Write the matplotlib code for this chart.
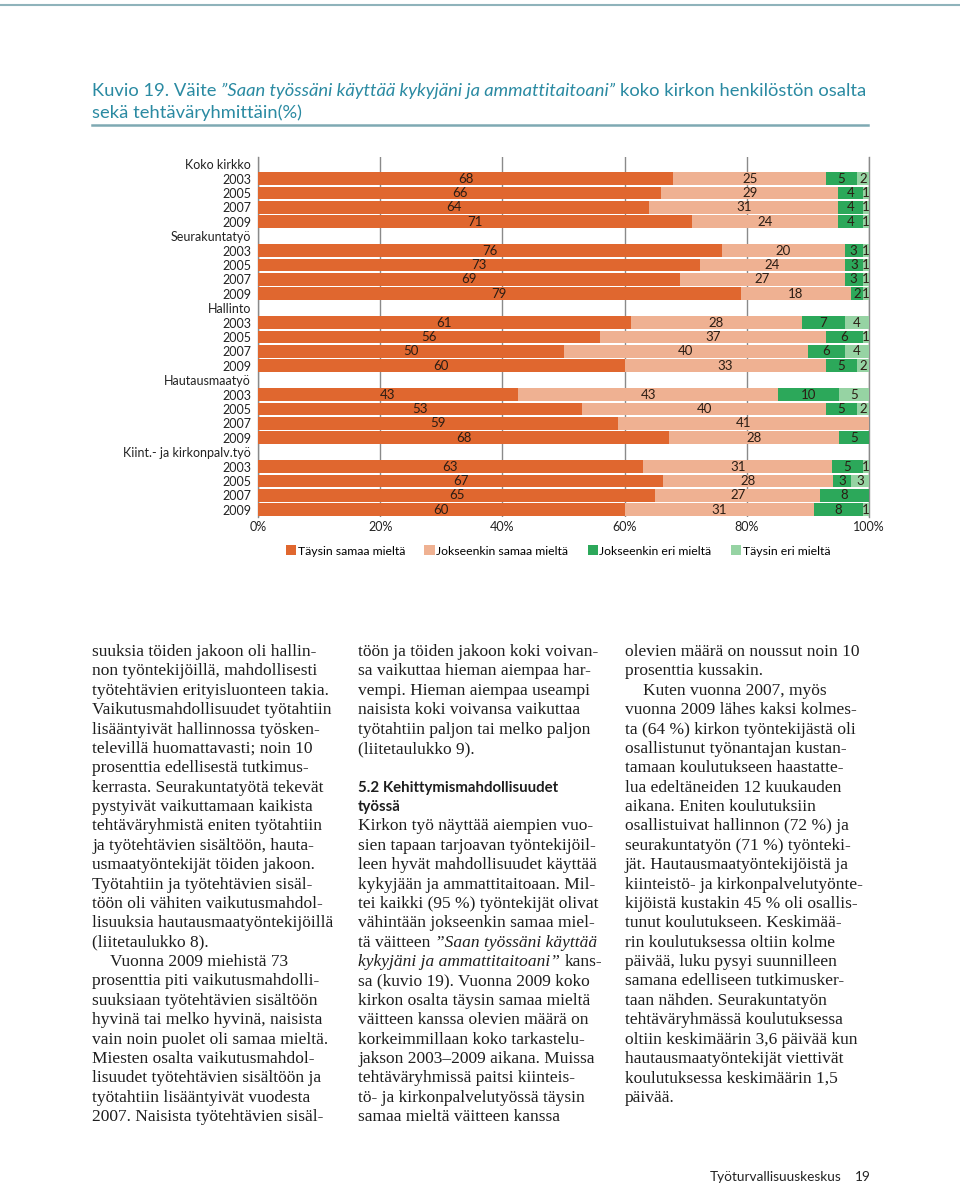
import matplotlib
matplotlib.use("Agg")
import matplotlib.pyplot as plt
from matplotlib.lines import Line2D

W, H = 960, 1186

groups = ["Koko kirkko", "Seurakuntatyö", "Hallinto", "Hautausmaatyö", "Kiint.- ja kirkonpalv.työ"]
years = ["2003", "2005", "2007", "2009"]
series = ["Täysin samaa mieltä", "Jokseenkin samaa mieltä", "Jokseenkin eri mieltä", "Täysin eri mieltä"]
colors = ["#e0672f", "#efb192", "#2ca85a", "#96d3a3"]

# values per row, group by group, years 2003-2009
taysin_samaa = [68, 66, 64, 71, 76, 73, 69, 79, 61, 56, 50, 60, 43, 53, 59, 68, 63, 67, 65, 60]
jokseenkin_samaa = [25, 29, 31, 24, 20, 24, 27, 18, 28, 37, 40, 33, 43, 40, 41, 28, 31, 28, 27, 31]
jokseenkin_eri = [5, 4, 4, 4, 3, 3, 3, 2, 7, 6, 6, 5, 10, 5, 0, 5, 5, 3, 8, 8]
taysin_eri = [2, 1, 1, 1, 1, 1, 1, 1, 4, 1, 4, 2, 5, 2, 0, 0, 1, 3, 0, 1]

title_runs = [("Kuvio 19. Väite", "normal"),
              ("\u201dSaan työssäni käyttää kykyjäni ja ammattitaitoani\u201d", "italic"),
              ("koko kirkon henkilöstön osalta", "normal")]
title_line2 = "sekä tehtäväryhmittäin(%)"

col1 = [
    "suuksia töiden jakoon oli hallin-",
    "non työntekijöillä, mahdollisesti",
    "työtehtävien erityisluonteen takia.",
    "Vaikutusmahdollisuudet työtahtiin",
    "lisääntyivät hallinnossa työsken-",
    "televillä huomattavasti; noin 10",
    "prosenttia edellisestä tutkimus-",
    "kerrasta. Seurakuntatyötä tekevät",
    "pystyivät vaikuttamaan kaikista",
    "tehtäväryhmistä eniten työtahtiin",
    "ja työtehtävien sisältöön, hauta-",
    "usmaatyöntekijät töiden jakoon.",
    "Työtahtiin ja työtehtävien sisäl-",
    "töön oli vähiten vaikutusmahdol-",
    "lisuuksia hautausmaatyöntekijöillä",
    "(liitetaulukko 8).",
    ">Vuonna 2009 miehistä 73",
    "prosenttia piti vaikutusmahdolli-",
    "suuksiaan työtehtävien sisältöön",
    "hyvinä tai melko hyvinä, naisista",
    "vain noin puolet oli samaa mieltä.",
    "Miesten osalta vaikutusmahdol-",
    "lisuudet työtehtävien sisältöön ja",
    "työtahtiin lisääntyivät vuodesta",
    "2007. Naisista työtehtävien sisäl-",
]
col2 = [
    "töön ja töiden jakoon koki voivan-",
    "sa vaikuttaa hieman aiempaa har-",
    "vempi. Hieman aiempaa useampi",
    "naisista koki voivansa vaikuttaa",
    "työtahtiin paljon tai melko paljon",
    "(liitetaulukko 9).",
    "",
    "#5.2 Kehittymismahdollisuudet",
    "#työssä",
    "Kirkon työ näyttää aiempien vuo-",
    "sien tapaan tarjoavan työntekijöil-",
    "leen hyvät mahdollisuudet käyttää",
    "kykyjään ja ammattitaitoaan. Mil-",
    "tei kaikki (95 %) työntekijät olivat",
    "vähintään jokseenkin samaa miel-",
    [("tä väitteen", "normal"), ("\u201dSaan työssäni käyttää", "italic")],
    [("kykyjäni ja ammattitaitoani\u201d", "italic"), ("kans-", "normal")],
    "sa (kuvio 19). Vuonna 2009 koko",
    "kirkon osalta täysin samaa mieltä",
    "väitteen kanssa olevien määrä on",
    "korkeimmillaan koko tarkastelu-",
    "jakson 2003\u20132009 aikana. Muissa",
    "tehtäväryhmissä paitsi kiinteis-",
    "tö- ja kirkonpalvelutyössä täysin",
    "samaa mieltä väitteen kanssa",
]
col3 = [
    "olevien määrä on noussut noin 10",
    "prosenttia kussakin.",
    ">Kuten vuonna 2007, myös",
    "vuonna 2009 lähes kaksi kolmes-",
    "ta (64 %) kirkon työntekijästä oli",
    "osallistunut työnantajan kustan-",
    "tamaan koulutukseen haastatte-",
    "lua edeltäneiden 12 kuukauden",
    "aikana. Eniten koulutuksiin",
    "osallistuivat hallinnon (72 %) ja",
    "seurakuntatyön (71 %) työnteki-",
    "jät. Hautausmaatyöntekijöistä ja",
    "kiinteistö- ja kirkonpalvelutyönte-",
    "kijöistä kustakin 45 % oli osallis-",
    "tunut koulutukseen. Keskimää-",
    "rin koulutuksessa oltiin kolme",
    "päivää, luku pysyi suunnilleen",
    "samana edelliseen tutkimusker-",
    "taan nähden. Seurakuntatyön",
    "tehtäväryhmässä koulutuksessa",
    "oltiin keskimäärin 3,6 päivää kun",
    "hautausmaatyöntekijät viettivät",
    "koulutuksessa keskimäärin 1,5",
    "päivää.",
]

SANS = "Lato"
SERIF = "Liberation Serif"
TEAL = "#2a8aa2"

fig = plt.figure(figsize=(W / 100, H / 100), dpi=100)
fig.patch.set_facecolor("white")
rend = fig.canvas.get_renderer()


def fx(x):
    return x / W


def fy(y):
    return 1 - y / H


def text_width(s, **kw):
    t = fig.text(0, 0, s, **kw)
    w = t.get_window_extent(rend).width
    t.remove()
    return w


def put_runs(x, y, runs, **kw):
    space = text_width("x x", **kw) - text_width("xx", **kw)
    for txt, style in runs:
        t = fig.text(fx(x), fy(y), txt, style=style, va="baseline", **kw)
        x += t.get_window_extent(rend).width + space


# page decorations
fig.add_artist(Line2D([0, 1], [fy(5), fy(5)], color="#8fb3bb", lw=1.5))
fig.add_artist(Line2D([fx(92), fx(868)], [fy(125), fy(125)], color="#7ea9b3", lw=1.8))

tkw = dict(fontsize=13.2, family=SANS, color=TEAL)
put_runs(92, 96, title_runs, **tkw)
fig.text(fx(92), fy(118), title_line2, va="baseline", **tkw)

# chart
ax = fig.add_axes([fx(258), fy(517), 611 / W, 360 / H])

row_labels = []
row_pos = []
for g, grp in enumerate(groups):
    row_labels.append(grp)
    for k, yr in enumerate(years):
        row_labels.append(yr)
        row_pos.append(g * 5 + k + 1)

data = [taysin_samaa, jokseenkin_samaa, jokseenkin_eri, taysin_eri]
totals = [sum(v) for v in zip(*data)]
left = [0.0] * len(row_pos)
for s, vals in enumerate(data):
    widths = [v / t * 100 for v, t in zip(vals, totals)]
    ax.barh(row_pos, widths, left=left, height=0.88, color=colors[s],
            label=series[s], zorder=3)
    for yp, l, w, v in zip(row_pos, left, widths, vals):
        if v > 0:
            ax.text(l + w / 2, yp, str(v), ha="center", va="center",
                    fontsize=9.5, family=SANS, color="#2b1d14", zorder=4)
    left = [l + w for l, w in zip(left, widths)]

ax.set_xlim(0, 100)
ax.set_ylim(24.5, -0.5)
ax.set_yticks(range(len(row_labels)))
ax.set_yticklabels(row_labels, fontsize=9, family=SANS, color="#222222")
ax.set_xticks([0, 20, 40, 60, 80, 100])
ax.set_xticklabels(["0%", "20%", "40%", "60%", "80%", "100%"], fontsize=9,
                   family=SANS, color="#222222")
ax.tick_params(length=0, axis="y", pad=5)
ax.tick_params(length=0, axis="x", pad=3)
ax.xaxis.grid(True, color="#8a8a8a", lw=1)
ax.set_axisbelow(True)
for side in ["top", "bottom"]:
    ax.spines[side].set_visible(False)
for side in ["left", "right"]:
    ax.spines[side].set_color("#8a8a8a")
    ax.spines[side].set_linewidth(1)

leg = fig.legend(loc="center", bbox_to_anchor=(fx(558), fy(551)), ncol=4,
                 frameon=False, handlelength=0.85, handleheight=0.85,
                 handletextpad=0.1, columnspacing=1.6,
                 prop={"family": SANS, "size": 8.8})

# body text
bkw = dict(fontsize=12.5, family=SERIF, color="#1e1e1e")
pitch = 19.38
base0 = 656
for x0, lines in [(92, col1), (358, col2), (625, col3)]:
    for i, ln in enumerate(lines):
        y = base0 + i * pitch
        if isinstance(ln, list):
            put_runs(x0, y, ln, **bkw)
        elif ln.startswith("#"):
            fig.text(fx(x0), fy(y), ln[1:], va="baseline", fontsize=10.8,
                     family=SANS, weight="bold", color="#1e1e1e")
        elif ln.startswith(">"):
            fig.text(fx(x0 + 18), fy(y), ln[1:], va="baseline", **bkw)
        elif ln:
            fig.text(fx(x0), fy(y), ln, va="baseline", **bkw)

fig.text(fx(710), fy(1181), "Työturvallisuuskeskus", va="baseline",
         fontsize=9.8, family=SANS, color="#222222")
fig.text(fx(855), fy(1181), "19", va="baseline", fontsize=9.8, family=SANS,
         color="#222222")

fig.savefig("out.png", dpi=100)
